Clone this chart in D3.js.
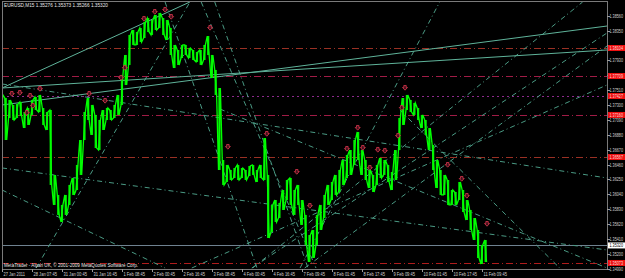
<!DOCTYPE html>
<html><head><meta charset="utf-8">
<script src="https://cdn.jsdelivr.net/npm/d3@7"></script>
<style>html,body{margin:0;padding:0;background:#000;}svg{display:block;}</style>
</head><body>
<svg id="c" width="625" height="278"></svg>
<script>
// ---- DATA ----
const title = "EURUSD,M15  1.35276 1.35373 1.35266 1.35320";
const footer = "MetaTrader - Alpari UK, \u00a9 2001-2009 MetaQuotes Software Corp.";
const barStep = 8; // bars per entry
const highs = [1.37442,1.37399,1.37371,1.37301,1.37315,1.37343,1.37202,1.37258,1.37371,1.37413,
1.37442,1.37258,1.37202,1.37230,1.36314,1.36032,1.35891,1.36032,1.36173,1.36271,
1.36455,1.36807,1.37202,1.37399,1.37301,1.37160,1.37089,1.37230,1.37258,1.37230,
1.37301,1.37442,1.37724,1.38006,1.38288,1.38358,1.38330,1.38386,1.38471,1.38527,
1.38499,1.38570,1.38598,1.38527,1.38499,1.38386,1.38147,1.38076,1.38147,1.38147,
1.38104,1.38076,1.38048,1.38076,1.38147,1.38273,1.38006,1.37794,1.37540,1.36525,
1.36455,1.36384,1.36412,1.36455,1.36412,1.36384,1.36440,1.36455,1.36384,1.36455,
1.36835,1.36314,1.35891,1.35961,1.35919,1.36102,1.36243,1.36271,1.36102,1.36173,
1.35961,1.35750,1.35467,1.35538,1.35750,1.35891,1.36032,1.36173,1.36215,1.36314,
1.36384,1.36525,1.36596,1.36666,1.36807,1.36920,1.36666,1.36525,1.36384,1.36314,
1.36455,1.36553,1.36525,1.36455,1.36356,1.36666,1.37117,1.37399,1.37442,1.37371,
1.37329,1.37258,1.37160,1.37089,1.36976,1.36737,1.36525,1.36384,1.36314,1.36243,
1.36102,1.36074,1.36215,1.36102,1.35961,1.35820,1.35707,1.35538,1.35327,1.35397];
const lows = [1.37202,1.36807,1.37117,1.37089,1.37117,1.37145,1.36976,1.37019,1.37160,1.37230,
1.37202,1.37019,1.36948,1.36173,1.35891,1.35750,1.35651,1.35750,1.35891,1.36032,
1.36102,1.36314,1.36807,1.37089,1.36878,1.36694,1.36666,1.36948,1.37089,1.37089,
1.37117,1.37160,1.37301,1.37583,1.37865,1.38147,1.38147,1.38189,1.38245,1.38330,
1.38288,1.38358,1.38386,1.38288,1.38217,1.38006,1.37822,1.37865,1.37963,1.38006,
1.37963,1.37935,1.37907,1.37865,1.37935,1.38006,1.37681,1.37442,1.36384,1.36173,
1.36215,1.36243,1.36271,1.36243,1.36271,1.36243,1.36299,1.36314,1.36215,1.36271,
1.36243,1.35425,1.35510,1.35651,1.35707,1.35820,1.35961,1.35891,1.35750,1.35891,
1.35609,1.35327,1.35087,1.35143,1.35327,1.35538,1.35707,1.35891,1.35961,1.36032,
1.36074,1.36173,1.36271,1.36314,1.36455,1.36525,1.36314,1.36243,1.36130,1.36074,
1.36173,1.36271,1.36314,1.36215,1.36102,1.36243,1.36666,1.37019,1.37230,1.37202,
1.37160,1.37089,1.36976,1.36878,1.36666,1.36384,1.36130,1.36032,1.36032,1.35891,
1.35891,1.35891,1.35961,1.35792,1.35679,1.35538,1.35397,1.35143,1.35059,1.35087];
const lastClose = 1.35320;

const priceTicks = [1.34990,1.35200,1.35410,1.35620,1.35830,1.36040,1.36250,1.36460,1.36670,
1.36880,1.37090,1.37300,1.37510,1.37720,1.37930,1.38140,1.38350,1.38560];
const timeLabels = ["27 Jan 2011","28 Jan 07:45","31 Jan 00:45","31 Jan 16:45","1 Feb 08:45",
"2 Feb 00:45","2 Feb 16:45","3 Feb 08:45","4 Feb 00:45","4 Feb 16:45","7 Feb 09:45",
"8 Feb 01:45","8 Feb 17:45","9 Feb 09:45","10 Feb 01:45","10 Feb 17:45","11 Feb 09:45"];
const timeLabelStep = 64; // bars

// horizontal levels
const levelPrices = [1.38104, 1.37709, 1.37427, 1.37160, 1.36567, 1.35073];
const levelColors = ["#9a3024","#a01c46","#8c2a8c","#a01c46","#9a3024","#b01c1c"];
const levelDash = ["7,3,1,3","7,3,1,3","2,3","7,3,1,3","7,3,1,3","7,3,1,3"];

// trend lines [bar1, price1, bar2, price2]
const solidLines = [[0,1.37301,1291,1.38414],[0,1.37540,1291,1.38076],[0,1.37540,401,1.38753]];
const dashLines = [
 [0,1.36413,1291,1.35256],[0,1.36102,348,1.35002],[73,1.35002,401,1.38753],
 [0,1.37597,1291,1.36271],[454,1.38753,653,1.35002],[425,1.38753,670,1.35002],
 [636,1.35002,934,1.38753],[646,1.35002,1291,1.38132],[535,1.35002,1239,1.38753],
 [533,1.35002,1291,1.38316],[405,1.35002,1291,1.37583],[465,1.37244,1291,1.35002],
 [849,1.37230,1190,1.35002],[348,1.38753,544,1.35002]];

// fractal markers [bar, price]
const markerBars = [21,38,60,81,53,66,186,220,254,262,303,326,348,361,444,482,565,629,657,736,759,770,785,802,817,845,853,860,951,981,992,1035];
const markerPrices = [1.37399,1.37413,1.37371,1.37470,1.37131,1.37230,1.37399,1.37301,1.37625,1.37766,
1.38457,1.38555,1.38584,1.38485,1.38330,1.36652,1.36835,1.36299,1.35820,1.36624,1.36920,1.36638,
1.36356,1.36610,1.36596,1.36807,1.37202,1.37484,1.36398,1.36201,1.35961,1.35566];

// ---- DRAW ----
const FONT = "Liberation Sans, Arial, sans-serif";
const svg = d3.select("#c");
svg.append("rect").attr("width",625).attr("height",278).attr("fill","#000");
const x = d3.scaleLinear().domain([0,1291]).range([2,607]);
const y = d3.scaleLinear().domain([1.34988,1.38781]).range([269,0]);

svg.append("clipPath").attr("id","plot").append("rect").attr("x",2).attr("y",1).attr("width",605).attr("height",268);
const g = svg.append("g").attr("clip-path","url(#plot)");

levelPrices.forEach((p,i)=>{
  const yy = Math.round(y(p))+0.5;
  g.append("line").attr("x1",2).attr("x2",607).attr("y1",yy).attr("y2",yy)
   .attr("stroke",levelColors[i]).attr("stroke-width",1).attr("stroke-dasharray",levelDash[i]);
});
g.append("line").attr("x1",2).attr("x2",607).attr("y1",Math.round(y(lastClose))+0.5).attr("y2",Math.round(y(lastClose))+0.5)
 .attr("stroke","#6f8290").attr("stroke-width",1);

dashLines.forEach(l=>{
  g.append("line").attr("x1",x(l[0])).attr("y1",y(l[1])).attr("x2",x(l[2])).attr("y2",y(l[3]))
   .attr("stroke","#4a9a84").attr("stroke-width",1).attr("stroke-dasharray","5,3,1,3");
});
solidLines.forEach(l=>{
  g.append("line").attr("x1",x(l[0])).attr("y1",y(l[1])).attr("x2",x(l[2])).attr("y2",y(l[3]))
   .attr("stroke","#5fb39a").attr("stroke-width",1);
});

// price bars: narrow hi-lo bars plus a jagged line through them
const bw = x(barStep)-x(0);
g.selectAll("rect.bar").data(highs).enter().append("rect").attr("class","bar")
 .attr("x",(d,i)=>x(i*barStep)-1.1)
 .attr("width",2.2)
 .attr("y",d=>y(d))
 .attr("height",(d,i)=>Math.max(1,y(lows[i])-y(d)))
 .attr("fill","#00ee00");
const zig = [];
highs.forEach((h,i)=>{
  zig.push([x(i*barStep)-bw*0.25, y(i%2? h : lows[i])]);
  zig.push([x(i*barStep)+bw*0.25, y(i%2? lows[i] : h)]);
});
g.append("path").attr("d",d3.line()(zig)).attr("fill","none").attr("stroke","#00ff00").attr("stroke-width",1.3);

// markers (down arrows)
markerBars.forEach((b,i)=>{
  const cx = x(b), cy = y(markerPrices[i]) - 4;
  g.append("path").attr("d",`M${cx-1.2},${cy-2.5}h2.4v2h1.3l-2.5,2.7l-2.5,-2.7h1.3z`)
   .attr("fill","#40101a").attr("stroke","#c83248").attr("stroke-width",0.9);
});

// frame
svg.append("rect").attr("x",2.5).attr("y",1.5).attr("width",605).attr("height",268)
 .attr("fill","none").attr("stroke","#7a7a7a").attr("stroke-width",1);

// right axis (text compressed horizontally to fit the narrow margin)
function axisText(str, yy, color){
  svg.append("text").attr("transform",`translate(609.5,${yy+1.8}) scale(0.72,1)`)
   .text(str).attr("fill",color).attr("font-family",FONT).attr("font-size",5.2);
}
const levelYs = levelPrices.map(p=>y(p)).concat([y(lastClose)]);
priceTicks.forEach(p=>{
  const yy = Math.round(y(p))+0.5;
  svg.append("line").attr("x1",607).attr("x2",610).attr("y1",yy).attr("y2",yy).attr("stroke","#9a9a9a");
  if (levelYs.some(v=>Math.abs(v-yy)<5.5)) return;
  axisText(p.toFixed(5), yy, "#d0d0d0");
});
levelPrices.forEach((p,i)=>{
  const yy = y(p);
  svg.append("rect").attr("x",608).attr("y",yy-3).attr("width",17).attr("height",6).attr("fill","#ee1010");
  axisText(p.toFixed(5), yy, "#ffd8d8");
});
svg.append("rect").attr("x",608).attr("y",y(lastClose)-3).attr("width",17).attr("height",6).attr("fill","#ffffff");
axisText(lastClose.toFixed(5), y(lastClose), "#000");

// bottom axis
timeLabels.forEach((t,i)=>{
  const xx = Math.round(x(i*timeLabelStep))+0.5;
  svg.append("line").attr("x1",xx).attr("x2",xx).attr("y1",269).attr("y2",272).attr("stroke","#9a9a9a");
  svg.append("text").attr("x",xx+1).attr("y",276).text(t)
   .attr("fill","#d0d0d0").attr("font-family",FONT).attr("font-size",5.2)
   .attr("textLength",t.length*1.95).attr("lengthAdjust","spacingAndGlyphs");
});

svg.append("text").attr("x",4).attr("y",7).text(title).attr("fill","#e8e8e8")
 .attr("font-family",FONT).attr("font-size",5.5)
 .attr("textLength",104).attr("lengthAdjust","spacingAndGlyphs");
svg.append("text").attr("x",4).attr("y",267).text(footer).attr("fill","#e8e8e8")
 .attr("font-family",FONT).attr("font-size",5.5)
 .attr("textLength",134).attr("lengthAdjust","spacingAndGlyphs");
</script>
</body></html>
